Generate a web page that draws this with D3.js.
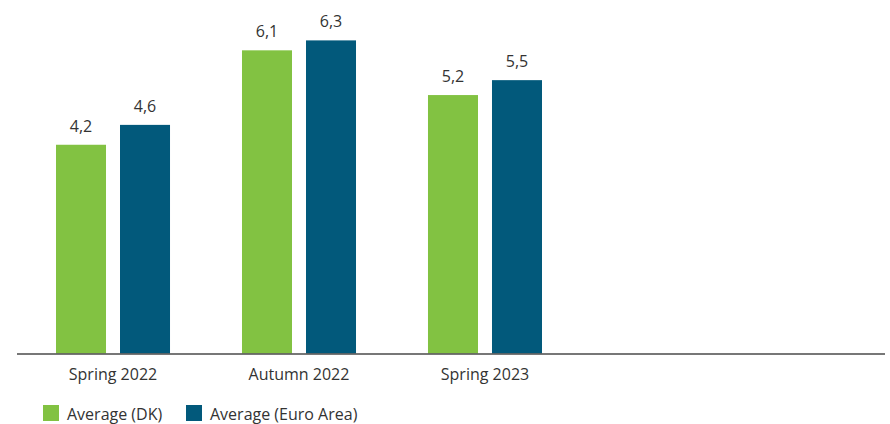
<!DOCTYPE html>
<html>
<head>
<meta charset="utf-8">
<script src="https://cdn.jsdelivr.net/npm/d3@7"></script>
<style>
  html, body { margin: 0; padding: 0; background: #fff; }
  svg { display: block; font-family: "Open Sans", "Noto Sans", sans-serif; }
</style>
</head>
<body>
<svg id="chart" width="890" height="424"></svg>
<script>
// Survey rounds shown on the x axis
const categories = ["Spring 2022", "Autumn 2022", "Spring 2023"];
// Series names (legend) and their values per round
const seriesNames = ["Average (DK)", "Average (Euro Area)"];
const dkValues = [4.2, 6.1, 5.2];
const euroValues = [4.6, 6.3, 5.5];
const seriesColors = ["#82c242", "#02597b"];

const svg = d3.select("#chart");
const baseY = 353.5;

const x0 = d3.scaleBand()
  .domain(categories)
  .range([56, 542])
  .paddingInner(0.387)
  .paddingOuter(0);

const x1 = d3.scaleBand()
  .domain(seriesNames)
  .range([0, x0.bandwidth()])
  .paddingInner(0.21875)
  .paddingOuter(0);

const y = d3.scaleLinear()
  .domain([0, 7])
  .range([baseY, baseY - 7 * 49.7]);

const rows = categories.map((c, i) => ({
  category: c,
  values: [
    { series: seriesNames[0], value: dkValues[i] },
    { series: seriesNames[1], value: euroValues[i] }
  ]
}));

const fmt = v => d3.format(".1f")(v).replace(".", ",");

const groups = svg.append("g").selectAll("g")
  .data(rows)
  .join("g")
  .attr("transform", d => `translate(${x0(d.category)},0)`);

groups.selectAll("rect")
  .data(d => d.values)
  .join("rect")
  .attr("x", d => x1(d.series))
  .attr("y", d => y(d.value))
  .attr("width", x1.bandwidth())
  .attr("height", d => y(0) - y(d.value))
  .attr("fill", (d, i) => seriesColors[i]);

groups.selectAll("text")
  .data(d => d.values)
  .join("text")
  .attr("x", d => x1(d.series) + x1.bandwidth() / 2)
  .attr("y", d => y(d.value) - 13)
  .attr("text-anchor", "middle")
  .attr("font-size", 16)
  .attr("fill", "#333")
  .text(d => fmt(d.value));

// Baseline across the full plot width
svg.append("line")
  .attr("x1", 17).attr("x2", 885)
  .attr("y1", 354).attr("y2", 354)
  .attr("stroke", "#4a4a4a")
  .attr("stroke-width", 1.5);

// Category labels centred under each bar group
svg.append("g").selectAll("text")
  .data(categories)
  .join("text")
  .attr("x", d => x0(d) + x0.bandwidth() / 2)
  .attr("y", 379.5)
  .attr("text-anchor", "middle")
  .attr("font-size", 16)
  .attr("fill", "#333")
  .text(d => d);

// Legend
const legendX = [43, 186];
const legend = svg.append("g").selectAll("g")
  .data(seriesNames)
  .join("g")
  .attr("transform", (d, i) => `translate(${legendX[i]},405)`);

legend.append("rect")
  .attr("width", 16)
  .attr("height", 16)
  .attr("fill", (d, i) => seriesColors[i]);

legend.append("text")
  .attr("x", 24)
  .attr("y", 14.5)
  .attr("font-size", 16)
  .attr("fill", "#333")
  .text(d => d);
</script>
</body>
</html>
